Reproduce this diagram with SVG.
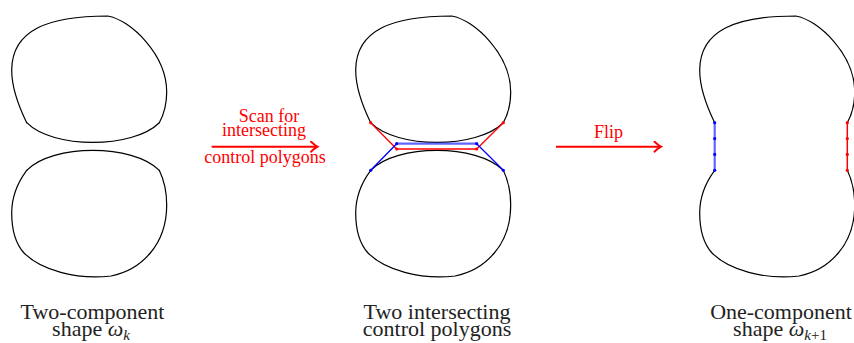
<svg xmlns="http://www.w3.org/2000/svg" xmlns:xlink="http://www.w3.org/1999/xlink" width="854" height="343" viewBox="0 0 854 343">
  <style>
    .blob { fill: none; stroke: #000; stroke-width: 1.2; stroke-linecap: round; stroke-linejoin: round; }
    .cap { font-family: "Liberation Serif", "DejaVu Serif", serif; font-size: 22px; fill: #222; text-anchor: middle; }
    .lbl { font-family: "Liberation Serif", "DejaVu Serif", serif; font-size: 18px; fill: #ff0000; text-anchor: middle; }
    .arrow { stroke: #ff0000; stroke-width: 2; fill: none; }
    .red { stroke: #ff0000; fill: none; stroke-width: 1.3; }
    .blue { stroke: #0000ff; fill: none; stroke-width: 1.3; }
    .redThick { stroke: #ff0000; fill: none; stroke-width: 1.5; }
    .blueThick { stroke: #3c3cff; fill: none; stroke-width: 2.2; opacity: 0.8; }
    .rdot { fill: #ff0000; }
    .bdot { fill: #0000ff; }
  </style>
  <defs>
    <path id="topArc" d="M26.7,122.7 C18,105 11.7,88 11.7,70 C12,30 48,16 107.7,16 C131,20 166.7,55 166.7,92 C166.7,106 163,116 159.3,122.7"/>
    <path id="topEdge" d="M159.3,122.7 C132.7,149 52.7,149 26.7,122.7"/>
    <path id="botEdge" d="M26.7,170.3 C52.7,143.7 132.7,143.7 159.3,170.3"/>
    <path id="botArc" d="M159.3,170.3 C163,178 166.7,190 166.7,205 C166.7,245 141,270 111,276 C76,280 41,270 24,253 C15,243 11.7,228 11.7,213 C11.7,198 18,182 26.7,170.3"/>
    <marker id="head" markerWidth="12" markerHeight="12" refX="0" refY="0" viewBox="-10 -6 12 12" orient="auto" markerUnits="userSpaceOnUse">
      <path d="M-6.5,-5 Q-2,-1 0,0 Q-2,1 -6.5,5" fill="none" stroke="#ff0000" stroke-width="2" stroke-linecap="round"/>
    </marker>
  </defs>

  <g id="shape-two-component">
    <use xlink:href="#topArc" class="blob"/>
    <use xlink:href="#topEdge" class="blob"/>
    <use xlink:href="#botEdge" class="blob"/>
    <use xlink:href="#botArc" class="blob"/>
    <text class="cap" x="92.5" y="319">Two-component</text>
    <text class="cap" x="91" y="336">shape <tspan font-style="italic">ω</tspan><tspan font-style="italic" font-size="15" dy="4">k</tspan></text>
  </g>

  <g id="shape-intersecting">
    <g transform="translate(344,0)">
      <use xlink:href="#topArc" class="blob"/>
      <use xlink:href="#topEdge" class="blob"/>
      <use xlink:href="#botEdge" class="blob"/>
      <use xlink:href="#botArc" class="blob"/>
    </g>
    <path class="red" d="M370.7,122.7 L396.7,149 M476.7,149 L503.3,122.7"/>
    <path class="blue" d="M370.7,170.3 L396.7,143.7 M476.7,143.7 L503.3,170.3"/>
    <path class="blueThick" d="M396.7,143.7 L476.7,143.7"/>
    <path class="redThick" d="M396.7,149 L476.7,149"/>
    <circle class="rdot" cx="370.7" cy="122.7" r="1.6"/>
    <circle class="rdot" cx="396.7" cy="149" r="1.6"/>
    <circle class="rdot" cx="476.7" cy="149" r="1.6"/>
    <circle class="rdot" cx="503.3" cy="122.7" r="1.6"/>
    <circle class="bdot" cx="370.7" cy="170.3" r="1.6"/>
    <circle class="bdot" cx="396.7" cy="143.7" r="1.6"/>
    <circle class="bdot" cx="476.7" cy="143.7" r="1.6"/>
    <circle class="bdot" cx="503.3" cy="170.3" r="1.6"/>
    <text class="cap" x="437" y="319">Two intersecting</text>
    <text class="cap" x="437" y="336">control polygons</text>
  </g>

  <g id="shape-one-component">
    <g transform="translate(688,0)">
      <use xlink:href="#topArc" class="blob"/>
      <use xlink:href="#botArc" class="blob"/>
    </g>
    <path class="blueThick" d="M714.7,122.7 L714.7,170.3"/>
    <path class="redThick" d="M847.3,122.7 L847.3,170.3"/>
    <circle class="bdot" cx="714.7" cy="122.7" r="1.6"/>
    <circle class="bdot" cx="714.7" cy="138.6" r="1.6"/>
    <circle class="bdot" cx="714.7" cy="154.4" r="1.6"/>
    <circle class="bdot" cx="714.7" cy="170.3" r="1.6"/>
    <circle class="rdot" cx="847.3" cy="122.7" r="1.6"/>
    <circle class="rdot" cx="847.3" cy="138.6" r="1.6"/>
    <circle class="rdot" cx="847.3" cy="154.4" r="1.6"/>
    <circle class="rdot" cx="847.3" cy="170.3" r="1.6"/>
    <text class="cap" x="781" y="319">One-component</text>
    <text class="cap" x="780" y="336">shape <tspan font-style="italic">ω</tspan><tspan font-style="italic" font-size="15" dy="4">k</tspan><tspan font-size="15">+1</tspan></text>
  </g>

  <g id="connectors">
    <line class="arrow" x1="211.7" y1="146.7" x2="317.5" y2="146.7" marker-end="url(#head)"/>
    <text class="lbl" x="269" y="121.5">Scan for</text>
    <text class="lbl" x="264" y="136">intersecting</text>
    <text class="lbl" x="265" y="163.3">control polygons</text>
    <line class="arrow" x1="556" y1="146.7" x2="661" y2="146.7" marker-end="url(#head)"/>
    <text class="lbl" x="608.5" y="138.3">Flip</text>
  </g>
</svg>
